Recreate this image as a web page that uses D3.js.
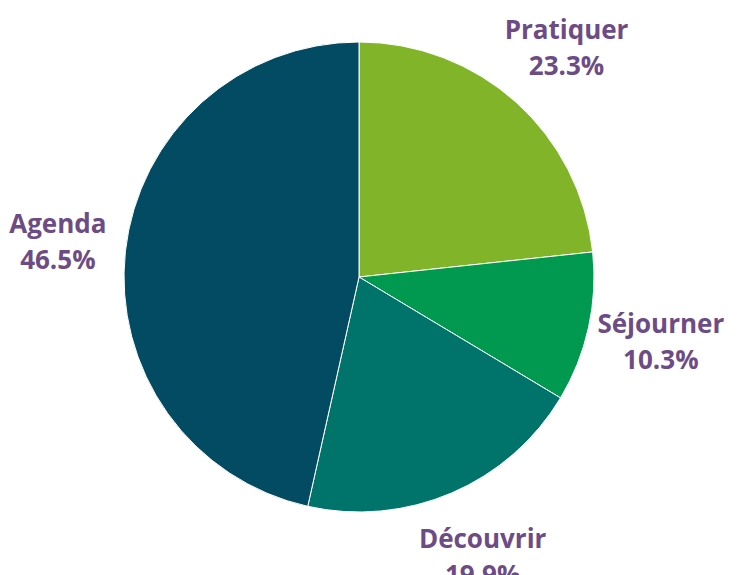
<!DOCTYPE html>
<meta charset="utf-8">
<style>
body { margin: 0; background: #fff; }
.label {
    font-family: "Open Sans", sans-serif;
    font-weight: 700;
    font-size: 26px;
    fill: #6d4c85;
}
</style>
<body>
<script src="https://d3js.org/d3.v7.min.js"></script>
<script>

    // chart data
    let categories = ["Pratiquer", "Séjourner", "Découvrir", "Agenda"];
    let values = [23.3, 10.3, 19.9, 46.5];
    let colors = ["#82b42a", "#00994f", "#00736a", "#034b62"];

    let width = 738, height = 575;
    let cx = 359, cy = 277, radius = 235, labelRadius = 306;

    let svg = d3.select("body").append("svg")
        .attr("width", width)
        .attr("height", height);

    let g = svg.append("g")
        .attr("transform", "translate(" + cx + "," + cy + ")");

    let data = categories.map(function (c, i) {
        return {name: c, value: values[i], color: colors[i]};
    });

    let pie = d3.pie()
        .sort(null)
        .value(function (d) { return d.value; });

    let arc = d3.arc().innerRadius(0).outerRadius(radius);
    let labelArc = d3.arc().innerRadius(labelRadius).outerRadius(labelRadius);

    let arcs = pie(data);

    g.selectAll("path.slice")
        .data(arcs)
        .enter().append("path")
        .attr("class", "slice")
        .attr("d", arc)
        .attr("fill", function (d) { return d.data.color; })
        .attr("stroke", "#fff")
        .attr("stroke-width", 1);

    let labels = g.selectAll("text.label")
        .data(arcs)
        .enter().append("text")
        .attr("class", "label")
        .attr("text-anchor", "middle")
        .attr("transform", function (d) {
            let c = labelArc.centroid(d);
            return "translate(" + (c[0] + 3) + "," + (c[1] - 4) + ")";
        });

    labels.append("tspan")
        .attr("x", 0)
        .attr("y", -6)
        .text(function (d) { return d.data.name; });

    labels.append("tspan")
        .attr("x", 0)
        .attr("y", 30)
        .text(function (d) { return d.data.value.toFixed(1) + "%"; });

</script>
</body>
